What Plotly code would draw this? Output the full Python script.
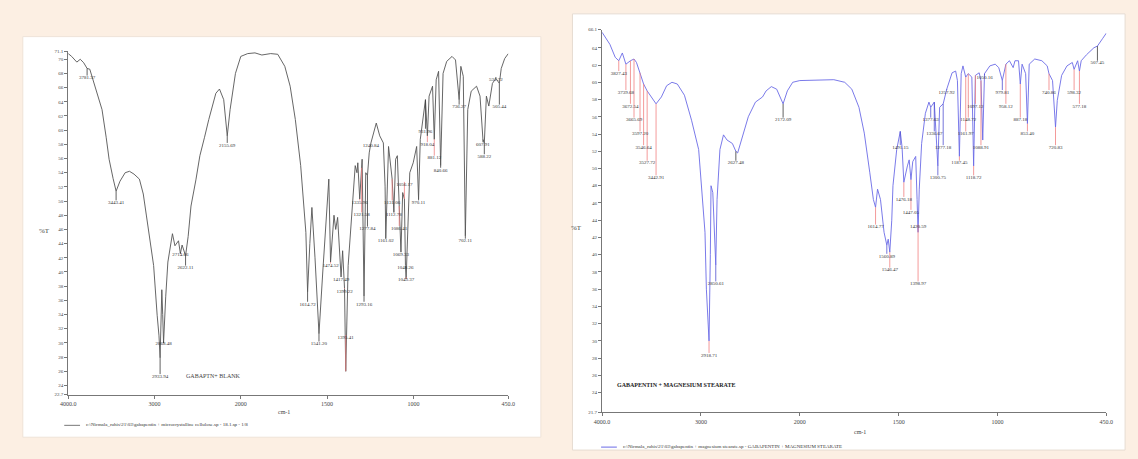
import numpy as np
import plotly.graph_objects as go

# ---------------- data: left spectrum (gabapentin + blank) ----------------
L_wn = [4000, 3960, 3900, 3860, 3820, 3781, 3750, 3711, 3660, 3608, 3560, 3526, 3480, 3445, 3400,
        3340, 3290, 3237, 3175, 3130, 3093, 3050, 3010, 2969, 2948, 2935, 2925, 2915, 2905, 2895,
        2870, 2845, 2792, 2763, 2722, 2700, 2680, 2640, 2610, 2577, 2520, 2474, 2420, 2371, 2289,
        2247, 2198, 2157, 2124, 2062, 2000, 1960, 1918, 1878, 1827, 1786, 1745, 1714, 1684, 1653,
        1623, 1613, 1600, 1588, 1570, 1547, 1525, 1500, 1490, 1480, 1470, 1460, 1450, 1439, 1419,
        1410, 1399, 1392, 1378, 1358, 1337, 1327, 1322, 1311, 1297, 1286, 1276, 1266, 1256, 1246,
        1215, 1195, 1174, 1164, 1160, 1144, 1123, 1113, 1103, 1093, 1082, 1072, 1062, 1052, 1046,
        1042, 1021, 1001, 981, 970, 960, 940, 930, 919, 909, 889, 879, 868, 854, 842,
        828, 807, 776, 756, 735, 725, 711, 699, 685, 665, 634, 614, 597, 589, 577,
        563, 542, 522, 502, 491, 471, 450]
L_t = [70.8, 70.4, 69.6, 70.0, 69.5, 68.7, 68.6, 67.1, 65.0, 62.9, 59.0, 55.9, 53.2, 51.4, 52.8,
       54.0, 54.2, 53.8, 53.1, 51.0, 47.9, 44.5, 40.9, 33.9, 31.0, 27.9, 32.0, 37.5, 34.0, 30.0,
       36.5, 41.4, 45.4, 43.7, 44.4, 42.6, 43.8, 42.3, 45.0, 49.3, 53.0, 56.4, 59.0, 61.5, 65.2,
       65.8, 64.3, 59.2, 62.9, 68.0, 70.4, 70.8, 70.9, 70.6, 70.8, 70.7, 69.0, 66.2, 61.5, 55.0,
       45.6, 37.2, 44.0, 49.1, 42.0, 31.3, 40.0, 48.4, 53.1, 41.4, 45.0, 48.0, 46.0, 47.7, 39.3,
       43.0, 37.7, 26.0, 40.9, 48.4, 55.0, 54.0, 55.4, 50.3, 55.9, 36.6, 54.0, 53.6, 56.8, 58.2,
       61.0, 59.2, 58.2, 52.1, 44.7, 57.7, 53.1, 48.4, 55.9, 56.4, 49.3, 42.8, 51.2, 50.3, 40.9,
       39.0, 54.0, 55.4, 57.7, 50.3, 58.7, 62.9, 64.3, 59.2, 64.8, 66.2, 58.7, 67.1, 68.3, 55.0,
       68.0, 69.7, 70.4, 69.9, 64.3, 69.0, 67.6, 45.1, 62.9, 65.5, 66.2, 64.8, 58.7, 58.2, 64.8,
       63.4, 66.6, 67.3, 66.6, 68.7, 70.1, 70.8]

# peak labels: wavenumber, label level (%T), text, line colour key
LP_wn = [3781, 3445, 2935, 2895, 2700, 2640, 2157, 1613, 1547, 1480, 1419, 1399, 1392, 1311, 1300,
         1286, 1266, 1246, 1160, 1123, 1113, 1082, 1072, 1052, 1046, 1042, 970, 930, 919, 879,
         842, 735, 699, 597, 589, 522, 502]
LP_lab = [67.7, 50.1, 25.6, 30.2, 42.8, 40.9, 58.2, 35.8, 30.2, 41.2, 39.3, 37.6, 31.1, 50.1, 48.4,
          35.8, 46.4, 58.2, 44.7, 50.1, 48.4, 46.5, 42.8, 52.7, 40.9, 39.3, 50.1, 60.2, 58.3, 56.4,
          54.7, 63.6, 44.7, 58.3, 56.6, 67.5, 63.6]
LP_txt = ["3781.37", "3443.41", "2933.94", "2868.48", "2714.66", "2622.11", "2155.69", "1614.72",
          "1541.20", "1474.52", "1417.49", "1399.22", "1395.41", "1335.96", "1321.58", "1293.16",
          "1277.84", "1240.84", "1161.02", "1131.06", "1112.78", "1086.41", "1069.33", "1056.17",
          "1048.26", "1043.37", "970.11", "931.96", "918.04", "881.12", "840.66", "736.27",
          "702.11", "607.91", "588.22", "531.72", "505.44"]
LP_col = ["k", "k", "k", "k", "k", "k", "k", "k", "k", "r", "k", "r", "r", "r", "r",
          "k", "k", "k", "k", "r", "r", "r", "r", "r", "r", "r", "k", "k", "r", "r",
          "k", "k", "k", "k", "k", "k", "k"]

# ---------------- data: right spectrum (gabapentin + magnesium stearate) ----------------
R_wn = [4000, 3921, 3867, 3831, 3795, 3759, 3713, 3677, 3652, 3616, 3580, 3544, 3490, 3454, 3400,
        3347, 3293, 3239, 3167, 3095, 3023, 2980, 2959, 2945, 2918, 2905, 2898, 2880, 2865, 2850,
        2837, 2808, 2772, 2736, 2682, 2647, 2629, 2593, 2521, 2449, 2377, 2341, 2288, 2234, 2169,
        2126, 2072, 2000, 1900, 1828, 1773, 1737, 1701, 1674, 1646, 1628, 1617, 1607, 1592, 1574,
        1560, 1553, 1545, 1535, 1529, 1510, 1492, 1483, 1474, 1465, 1456, 1447, 1438, 1429, 1414,
        1407, 1402, 1396, 1384, 1365, 1347, 1338, 1320, 1302, 1293, 1275, 1257, 1230, 1212, 1203,
        1193, 1184, 1175, 1161, 1148, 1130, 1121, 1112, 1093, 1084, 1075, 1066, 1039, 1012, 994,
        976, 958, 940, 921, 912, 894, 885, 876, 858, 849, 840, 812, 776, 749, 740,
        722, 707, 698, 676, 649, 622, 613, 595, 586, 577, 550, 513, 495, 468, 450]
R_t = [65.8, 64.4, 62.9, 62.5, 63.4, 62.1, 62.5, 62.7, 62.3, 61.1, 59.8, 59.0, 58.1, 57.5, 58.3,
       59.6, 60.0, 59.8, 58.5, 55.6, 52.2, 46.4, 42.6, 36.0, 30.0, 40.0, 48.0, 47.2, 42.0, 38.8,
       46.4, 52.2, 53.9, 53.3, 52.9, 52.0, 51.8, 53.3, 56.0, 57.7, 58.3, 59.0, 59.5, 59.2, 57.5,
       59.0, 60.0, 60.2, 60.3, 60.3, 60.0, 59.2, 57.1, 54.1, 49.5, 46.4, 45.5, 47.6, 46.4, 42.6,
       41.1, 41.8, 40.3, 44.0, 48.0, 52.2, 54.3, 52.5, 48.4, 49.5, 50.3, 51.0, 48.7, 50.8, 51.4,
       46.4, 42.6, 47.6, 52.9, 56.4, 57.7, 57.1, 57.7, 50.3, 57.1, 57.5, 59.2, 61.1, 61.3, 60.2,
       51.4, 61.0, 61.9, 60.6, 61.0, 60.6, 50.3, 60.8, 61.1, 60.2, 53.3, 61.0, 61.9, 62.1, 61.7,
       60.2, 62.1, 62.5, 61.7, 62.5, 62.5, 59.8, 62.1, 61.0, 55.2, 62.1, 62.7, 62.5, 61.9, 61.0,
       60.2, 54.8, 57.9, 60.8, 61.9, 62.3, 61.5, 62.5, 61.3, 62.5, 63.2, 64.0, 64.2, 65.1, 65.7]

RP_wn = [3831, 3759, 3713, 3677, 3616, 3580, 3544, 3454, 2918, 2850, 2647, 2169, 1617, 1560, 1545,
         1492, 1474, 1438, 1402, 1402, 1338, 1320, 1302, 1275, 1257, 1193, 1161, 1148, 1121, 1112,
         1084, 1066, 976, 958, 885, 849, 740, 707, 613, 586, 495]
RP_lab = [61.3, 59.1, 57.5, 55.9, 54.3, 52.7, 50.9, 49.2, 28.6, 36.9, 50.9, 55.9, 43.5, 40.1, 38.5,
          52.7, 46.7, 45.2, 43.5, 36.9, 55.9, 54.3, 49.2, 52.7, 59.1, 50.9, 54.3, 55.9, 49.2, 57.5,
          52.7, 60.8, 59.1, 57.5, 55.9, 54.3, 59.1, 52.7, 59.1, 57.5, 62.5]
RP_txt = ["3827.43", "3739.68", "3672.54", "3665.69", "3597.20", "3546.64", "3527.72", "3442.91",
          "2918.71", "2850.61", "2627.48", "2172.09", "1614.77", "1560.89", "1546.47", "1491.15",
          "1476.18", "1447.05", "1420.59", "1398.97", "1377.63", "1336.67", "1300.75", "1277.18",
          "1257.92", "1187.45", "1161.97", "1148.72", "1118.72", "1097.12", "1088.91", "1050.16",
          "979.81", "958.12", "887.18", "853.40", "740.86", "720.83", "598.32", "577.18", "507.45"]
RP_col = ["r", "r", "r", "r", "r", "r", "r", "r", "r", "b", "k", "k", "r", "b", "r",
          "b", "r", "r", "r", "r", "b", "b", "b", "b", "b", "r", "r", "r", "r", "r",
          "r", "b", "b", "r", "r", "r", "r", "r", "r", "r", "k"]

X_TICKS = [4000, 3000, 2000, 1500, 1000, 450]
X_TICKTEXT = ["4000.0", "3000", "2000", "1500", "1000", "450.0"]
L_YTICKS = [22.7] + list(range(24, 71, 2)) + [71.1]
R_YTICKS = [21.7] + list(range(24, 65, 2)) + [66.1]

LEG_L = "c:\\Nirmala_ruhis\\21\\03\\gabapentin + microcrystalline cellulose.sp - 18.1.sp - 1/8"
LEG_R = "c:\\Nirmala_ruhis\\21\\03\\gabapentin + magnesium stearate.sp - GABAPENTIN + MAGNESIUM STEARATE"

W, H = 1138, 459


def u(w):
    # PerkinElmer style abscissa: scale doubles below 2000 cm-1
    w = np.asarray(w, dtype=float)
    return np.where(w >= 2000, (4000 - w) / 2.0, 1000 + (2000 - w))


COLS = {"k": "#3a3a3a", "r": "#f08080", "b": "#5050d0"}
SERIF = "Liberation Serif"

fig = go.Figure()


def add_spectrum(wn, t, pwn, plab, ptxt, pcol, curve_col, xa, ya):
    wn = np.asarray(wn, float)
    t = np.asarray(t, float)
    fig.add_trace(go.Scatter(x=u(wn), y=t, mode="lines", line=dict(color=curve_col, width=0.9),
                             xaxis=xa, yaxis=ya, hoverinfo="skip", showlegend=False))
    peak_t = np.interp(np.asarray(pwn, float)[::-1], wn[::-1], t[::-1])[::-1]
    for key in ["r", "b", "k"]:
        xs, ys = [], []
        for w0, pt, lb, c in zip(pwn, peak_t, plab, pcol):
            if c != key:
                continue
            x0 = float(u(w0))
            xs += [x0, x0, None]
            ys += [pt, lb, None]
        if xs:
            fig.add_trace(go.Scatter(x=xs, y=ys, mode="lines", line=dict(color=COLS[key], width=0.8),
                                     xaxis=xa, yaxis=ya, hoverinfo="skip", showlegend=False))
    fig.add_trace(go.Scatter(x=u(pwn), y=plab, mode="text", text=ptxt, textposition="bottom center",
                             textfont=dict(size=5, color="#333", family=SERIF),
                             xaxis=xa, yaxis=ya, hoverinfo="skip", showlegend=False))


add_spectrum(L_wn, L_t, LP_wn, LP_lab, LP_txt, LP_col, "#555555", "x", "y")
add_spectrum(R_wn, R_t, RP_wn, RP_lab, RP_txt, RP_col, "#6b6be6", "x2", "y2")


def xax(dom, anchor):
    return dict(domain=dom, anchor=anchor, range=[0, 2550], tickmode="array",
                tickvals=list(u(X_TICKS)), ticktext=X_TICKTEXT, ticks="outside", ticklen=3,
                tickcolor="#777", showline=True, linecolor="#777", linewidth=1, showgrid=False,
                zeroline=False, tickfont=dict(size=6, color="#444", family=SERIF))


def yax(dom, anchor, rng, ticks):
    txt = [("%.1f" % v) if isinstance(v, float) else str(v) for v in ticks]
    return dict(domain=dom, anchor=anchor, range=rng, tickmode="array", tickvals=ticks,
                ticktext=txt, ticks="outside", ticklen=3, tickcolor="#777", showline=True,
                linecolor="#777", linewidth=1, showgrid=False, zeroline=False,
                tickfont=dict(size=5, color="#444", family=SERIF))


fig.update_layout(
    width=W, height=H, margin=dict(l=0, r=0, t=0, b=0),
    paper_bgcolor="#fcefe3", plot_bgcolor="rgba(0,0,0,0)",
    xaxis=xax([61 / W, 507 / W], "y"),
    yaxis=yax([1 - 397 / H, 1 - 50 / H], "x", [22.7, 71.1], L_YTICKS),
    xaxis2=xax([602 / W, 1113 / W], "y2"),
    yaxis2=yax([1 - 415 / H, 1 - 28 / H], "x2", [21.7, 66.1], R_YTICKS),
)

# white panels behind the charts
fig.add_shape(type="rect", xref="paper", yref="paper", x0=15 / W, x1=540 / W, y0=1 - 440 / H,
              y1=1 - 35 / H, fillcolor="white", line=dict(color="#efe3d8", width=1), layer="below")
fig.add_shape(type="rect", xref="paper", yref="paper", x0=572 / W, x1=1132 / W, y0=1 - 453 / H,
              y1=1 - 12 / H, fillcolor="white", line=dict(color="#e6dcd2", width=1), layer="below")

ann = []


def txt(x, y, s, size=6, color="#444", bold=False, xanchor="center"):
    ann.append(dict(x=x / W, y=1 - y / H, xref="paper", yref="paper", text=("<b>%s</b>" % s) if bold else s,
                    showarrow=False, xanchor=xanchor, yanchor="middle",
                    font=dict(size=size, color=color, family=SERIF)))


txt(37, 232, "%T", 7)
txt(576, 228, "%T", 7)
txt(280, 415, "cm-1", 6)
txt(863, 435, "cm-1", 6)
txt(208, 378, "GABAPTN+ BLANK", 6)
txt(615, 387, "GABAPENTIN + MAGNESIUM STEARATE", 6, "#222", True, "left")
txt(77, 427, LEG_L, 5, "#333", False, "left")
txt(621, 449, LEG_R, 5, "#333", False, "left")
fig.update_layout(annotations=ann)
fig.add_shape(type="line", xref="paper", yref="paper", x0=57 / W, x1=73 / W, y0=1 - 428 / H,
              y1=1 - 428 / H, line=dict(color="#777", width=1))
fig.add_shape(type="line", xref="paper", yref="paper", x0=601 / W, x1=617 / W, y0=1 - 450 / H,
              y1=1 - 450 / H, line=dict(color="#6b6be6", width=1))

fig.write_html("out.html")
